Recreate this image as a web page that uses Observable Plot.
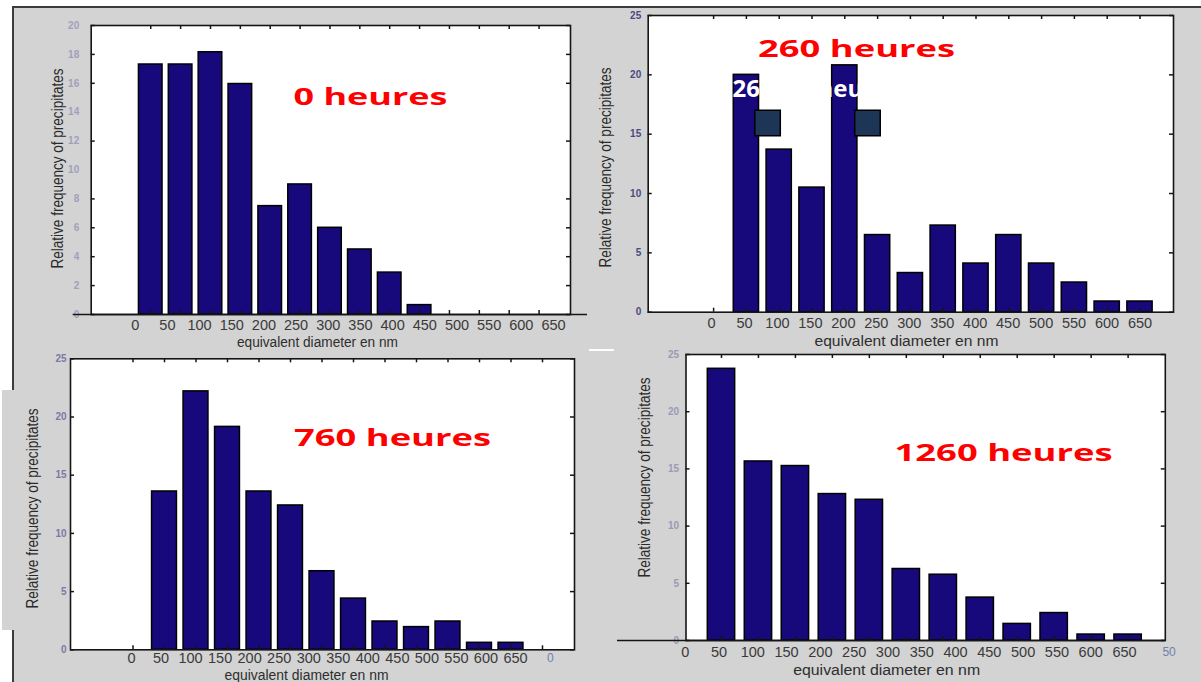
<!DOCTYPE html>
<html>
<head>
<meta charset="utf-8">
<script src="https://cdn.jsdelivr.net/npm/d3@7"></script>
<script src="https://cdn.jsdelivr.net/npm/@observablehq/plot@0.6"></script>
<style>
  html, body { margin: 0; padding: 0; background: #ffffff; }
  #page { position: relative; width: 1201px; height: 682px; overflow: hidden; background: #ffffff; }
  #bg { position: absolute; left: 14px; top: 8px; right: 0; bottom: 0; background: #d3d3d3; }
  #lineL { position: absolute; left: 12px; top: 6px; width: 2px; bottom: 0; background: #3c3c3c; }
  #lineT { position: absolute; left: 12px; top: 6px; right: 0; height: 2px; background: #3c3c3c; }
  #tab { position: absolute; left: 2px; top: 390px; width: 22px; height: 240px; background: #d3d3d3; }
  #dash { position: absolute; left: 589px; top: 349px; width: 25px; height: 2px; background: #ffffff; }
  svg.layer { position: absolute; left: 0; top: 0; }
</style>
</head>
<body>
<div id="page">
  <div id="bg"></div>
  <div id="lineL"></div>
  <div id="lineT"></div>
  <div id="tab"></div>
  <div id="dash"></div>
</div>
<script>
// ---------------- data ----------------
const tickLabels = [0, 50, 100, 150, 200, 250, 300, 350, 400, 450, 500, 550, 600, 650];
const slotsNm = ["0", "50", "100", "150", "200", "250", "300", "350", "400", "450", "500", "550", "600", "650"];
const slotsIdx14 = ["0", "1", "2", "3", "4", "5", "6", "7", "8", "9", "10", "11", "12", "13"];
const slotsIdx12 = ["1", "2", "3", "4", "5", "6", "7", "8", "9", "10", "11", "12"];

// 0 heures
const bins0 = ["0", "50", "100", "150", "200", "250", "300", "350", "400", "450"];
const freq0 = [17.3, 17.3, 18.15, 15.95, 7.5, 9.0, 6.0, 4.5, 2.9, 0.65];
// 260 heures
const bins260 = ["50", "100", "150", "200", "250", "300", "350", "400", "450", "500", "550", "600", "650"];
const freq260 = [20.0, 13.7, 10.5, 20.8, 6.5, 3.3, 7.3, 4.1, 6.5, 4.1, 2.5, 0.9, 0.9];
// 760 heures (12 classes)
const bins760 = ["1", "2", "3", "4", "5", "6", "7", "8", "9", "10", "11", "12"];
const freq760 = [13.6, 22.2, 19.15, 13.6, 12.4, 6.75, 4.4, 2.43, 1.95, 2.43, 0.6, 0.6];
// 1260 heures (12 classes)
const bins1260 = ["1", "2", "3", "4", "5", "6", "7", "8", "9", "10", "11", "12"];
const freq1260 = [23.75, 15.65, 15.25, 12.8, 12.3, 6.25, 5.75, 3.75, 1.45, 2.4, 0.52, 0.52];

const yTicks20 = [0, 2, 4, 6, 8, 10, 12, 14, 16, 18, 20];
const yMarks20 = [0, 2, 4, 6, 8, 12, 16, 18, 20];
const yTicks25 = [0, 5, 10, 15, 20, 25];

const yTitle = "Relative frequency of precipitates";
const xTitle = "equivalent diameter en nm";

// ---------------- layout / style ----------------
const W = 1201, H = 682;
const barFill = "#17097c";
const ink = "#151515";

const panels = [
  {
    bins: bins0, freq: freq0, slots: slotsNm, ymax: 20, yTicks: yTicks20, yMarks: yMarks20, yInk: "#a0a0bc",
    frame: {l: 90.7, t: 25, r: 570, b: 314}, band: [135.3, 553.5], pad: 0.21,
    labels: [134.7, 553], tickDy: 11, yPad: 12,
    yT: {dx: -33.7, dy: -1.5, L: 200}, xT: {dx: -13.4, dy: 28, L: 161},
    baseline: [-18, -17],
    notes: [{text: "0 heures", x: 365.6, y: 14.53, L: 154}]
  },
  {
    bins: bins260, freq: freq260, slots: slotsNm, ymax: 25, yTicks: yTicks25, yMarks: yTicks25, yInk: "#4c4a82",
    frame: {l: 647.7, t: 15, r: 1173, b: 311.7}, band: [696.7, 1155.9], pad: 0.23,
    labels: [711, 1139.5], tickDy: 11.3, yPad: 7,
    yT: {dx: -42.1, dy: 3.6, L: 200}, xT: {dx: -4.4, dy: 29.3, L: 184},
    ghost: [{text: "260", x: 31.9, y: 18.17}, {text: "heures", x: 160.8, y: 18.17}],
    squares: [{x: 85, y: 15.95}, {x: 236.6, y: 15.95}],
    notes: [{text: "260 heures", x: 220, y: 21.54, L: 197}]
  },
  {
    bins: bins760, freq: freq760, slots: slotsIdx14, ymax: 25, yTicks: yTicks25, yMarks: yTicks25, yInk: "#7a7aa6",
    frame: {l: 70, t: 358.3, r: 574, b: 649.3}, band: [116.75, 557.75], pad: 0.21,
    labels: [131, 515], tickDy: 8.7, yPad: 4,
    yT: {dx: -38, dy: 4.2, L: 200}, xT: {dx: -16, dy: 25.7, L: 164},
    fragment: {text: "0", x: 709},
    notes: [{text: "760 heures", x: 441.8, y: 17.55, L: 197}]
  },
  {
    bins: bins1260, freq: freq1260, slots: slotsIdx12, ymax: 25, yTicks: yTicks25, yMarks: yTicks25, yInk: "#9a9ab6",
    frame: {l: 685.5, t: 354, r: 1164.8, b: 640}, band: [702.5, 1146.1], pad: 0.26,
    labels: [684.7, 1124], tickDy: 11.7, yPad: 7,
    yT: {dx: -40.9, dy: -20, L: 200}, xT: {dx: -39, dy: 30, L: 187},
    baseline: [-68.5, 0],
    fragment: {text: "50", x: 716},
    notes: [{text: "1260 heures", x: 471, y: 15.73, L: 218}]
  }
];

function margins(f) {
  return {marginLeft: f.l, marginTop: f.t, marginRight: W - f.r, marginBottom: H - f.b};
}

// per-element aria-label used to find texts that are stretched to a given length
const tag = L => () => "stretch:" + L;

function barLayer(p) {
  const f = p.frame, fw = f.r - f.l, fh = f.b - f.t;
  const data = p.bins.map((b, i) => ({bin: b, freq: p.freq[i]}));
  const marks = [
    Plot.frame({fill: "#ffffff", stroke: "none"}),
    Plot.barY(data, {x: "bin", y: "freq", fill: barFill, stroke: "#000", strokeWidth: 1.5}),
    Plot.tickX(p.slots, {x: d => d, insetTop: fh - 4, stroke: ink, strokeWidth: 1.5}),
    Plot.tickX(p.slots, {x: d => d, insetBottom: fh - 4, stroke: ink, strokeWidth: 1.5}),
    Plot.tickY(p.yMarks, {y: d => d, insetRight: fw - 4, stroke: ink, strokeWidth: 1.5}),
    Plot.tickY(p.yMarks, {y: d => d, insetLeft: fw - 4, stroke: ink, strokeWidth: 1.5}),
    Plot.frame({stroke: ink, strokeWidth: 1.6}),
    Plot.text(p.yTicks, {y: d => d, text: d => String(d), frameAnchor: "left", dx: -p.yPad, textAnchor: "end",
      fontSize: 10, fontWeight: "bold", fill: p.yInk, fontFamily: "Liberation Sans"}),
    Plot.text([yTitle], {frameAnchor: "left", rotate: -90, dx: p.yT.dx, dy: p.yT.dy, textAnchor: "middle", lineAnchor: "middle",
      fontSize: 16, fill: "#2a2a2a", fontFamily: "Liberation Sans", ariaLabel: tag(p.yT.L)})
  ];
  if (p.baseline) {
    marks.push(Plot.ruleY([0], {insetLeft: p.baseline[0], insetRight: p.baseline[1], stroke: ink, strokeWidth: 1.6}));
  }
  return Plot.plot({
    width: W, height: H, ...margins(f),
    x: {type: "band", domain: p.slots, insetLeft: p.band[0] - f.l, insetRight: f.r - p.band[1],
        paddingInner: p.pad, paddingOuter: p.pad / 2, round: false, axis: null},
    y: {domain: [0, p.ymax], axis: null},
    style: "background:transparent;overflow:visible;",
    marks
  });
}

function labelLayer(p) {
  const f = p.frame;
  const marks = [
    Plot.text(tickLabels, {x: d => d, text: d => String(d), frameAnchor: "bottom", dy: p.tickDy,
      textAnchor: "middle", lineAnchor: "middle", fontSize: 14.5, fill: "#3a3a3a", fontFamily: "Liberation Sans"}),
    Plot.text([xTitle], {frameAnchor: "bottom", dx: p.xT.dx, dy: p.xT.dy, textAnchor: "middle", lineAnchor: "middle",
      fontSize: 14, fill: "#2e2e2e", fontFamily: "Liberation Sans", ariaLabel: tag(p.xT.L)})
  ];
  if (p.fragment) {
    marks.push(Plot.text([p.fragment], {x: "x", text: "text", frameAnchor: "bottom", dy: p.tickDy,
      textAnchor: "middle", lineAnchor: "middle", fontSize: 12, fill: "#7080b0", fontFamily: "Liberation Sans"}));
  }
  if (p.ghost) {
    marks.push(Plot.text(p.ghost, {x: "x", y: "y", text: "text", textAnchor: "start", lineAnchor: "bottom", fill: "#ffffff",
      fontSize: 24, fontWeight: "bold", fontFamily: "Open Sans"}));
  }
  if (p.squares) {
    marks.push(Plot.dot(p.squares, {x: "x", y: "y", symbol: "square", r: 14.4, fill: "#1d3557", stroke: "#000", strokeWidth: 1.5}));
  }
  for (const n of p.notes) {
    marks.push(Plot.text([n], {x: "x", y: "y", text: "text", textAnchor: "middle", lineAnchor: "bottom", fill: "#ff0000",
      fontSize: 24, fontWeight: "bold", fontFamily: "Open Sans", ariaLabel: tag(n.L)}));
  }
  return Plot.plot({
    width: W, height: H, ...margins(f),
    x: {type: "linear", domain: [0, 650], insetLeft: p.labels[0] - f.l, insetRight: f.r - p.labels[1], axis: null},
    y: {domain: [0, p.ymax], axis: null},
    style: "background:transparent;overflow:visible;",
    marks
  });
}

function stretch(svg) {
  svg.querySelectorAll('[aria-label^="stretch:"]').forEach(el => {
    const L = el.getAttribute("aria-label").split(":")[1];
    const texts = el.tagName.toLowerCase() === "text" ? [el] : el.querySelectorAll("text");
    texts.forEach(t => {
      t.setAttribute("textLength", L);
      t.setAttribute("lengthAdjust", "spacingAndGlyphs");
    });
  });
}

const page = document.getElementById("page");
for (const p of panels) {
  for (const svg of [barLayer(p), labelLayer(p)]) {
    svg.classList.add("layer");
    stretch(svg);
    page.appendChild(svg);
  }
}
</script>
</body>
</html>
